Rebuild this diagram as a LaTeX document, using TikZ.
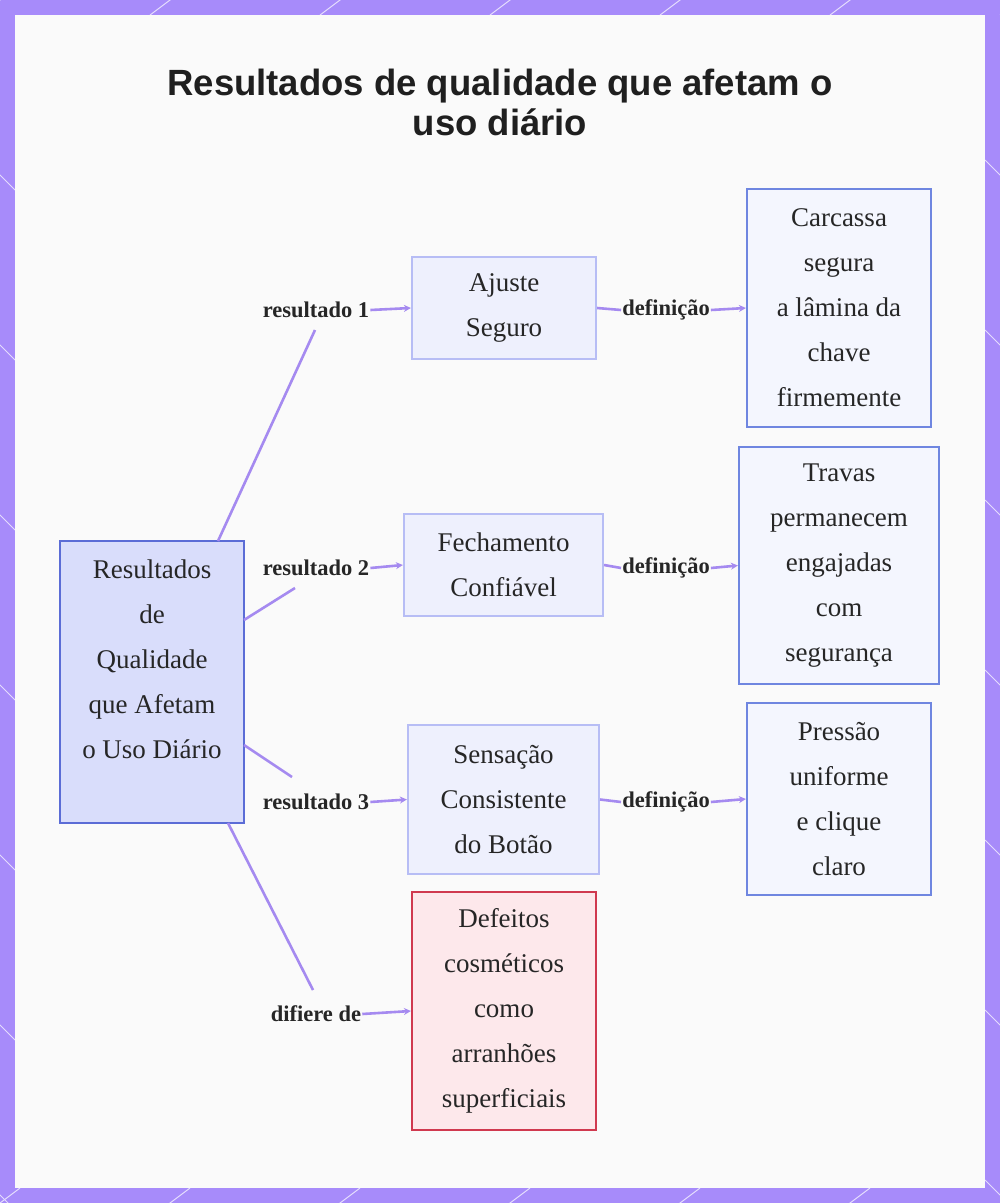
\documentclass[tikz,border=0pt]{standalone}
\usepackage{fontspec}
\setmainfont{Liberation Serif}
\newfontfamily\titlefont{Liberation Sans}
\usetikzlibrary{arrows.meta}
\definecolor{frame}{HTML}{A78BFA}
\definecolor{edge}{HTML}{A58AF0}
\definecolor{mainfill}{HTML}{D9DDFB}
\definecolor{mainborder}{HTML}{5B6CD6}
\definecolor{midfill}{HTML}{EEF0FD}
\definecolor{midborder}{HTML}{B7BDF5}
\definecolor{rfill}{HTML}{F4F6FE}
\definecolor{rborder}{HTML}{6F86E0}
\definecolor{redfill}{HTML}{FDE8EB}
\definecolor{redborder}{HTML}{D0394F}
\tikzset{
  box/.style={draw, line width=2.2pt, align=center, inner sep=0pt, font=\fontsize{27}{45}\selectfont, text=black!85},
  mid/.style={box, fill=midfill, draw=midborder},
  right/.style={box, fill=rfill, draw=rborder},
  lab/.style={font=\fontsize{22.5}{24}\selectfont\bfseries, text=black!85, inner sep=1pt},
  con/.style={draw=edge, line width=2.6pt},
  arr/.style={con, -{Stealth[length=7pt,width=7pt]}},
}
\begin{document}
\begin{tikzpicture}[x=1pt,y=-1pt]
\useasboundingbox (0,0) rectangle (1000,1203);
\fill[frame] (0,0) rectangle (1000,1203);
\begin{scope}
\clip (0,0) rectangle (1000,1203);
\foreach \i in {0,1,...,7}{
  \draw[white!70!frame, line width=1pt] (\i*170-20,15) -- (\i*170+20,-15);
  \draw[white!70!frame, line width=1pt] (\i*170-20,1218) -- (\i*170+20,1188);
}
\foreach \j in {0,1,...,7}{
  \draw[white!70!frame, line width=1pt] (-15,\j*170+160) -- (15,\j*170+190);
  \draw[white!70!frame, line width=1pt] (985,\j*170+160) -- (1015,\j*170+190);
}
\end{scope}
\fill[white!96!gray] (15,15) rectangle (985,1188);
\node[font=\titlefont\bfseries\fontsize{36.5}{40}\selectfont, align=center, text=black!88] (title) at (500,102) {Resultados de qualidade que afetam o\\uso diário};

\node[box, fill=mainfill, draw=mainborder, minimum width=184pt, minimum height=282pt] (main) at (152,682) {Resultados\\de\\Qualidade\\que Afetam\\o Uso Diário\\\mbox{}};

\node[mid, minimum width=184pt, minimum height=102pt] (a1) at (504,308) {Ajuste\\Seguro};
\node[mid, minimum width=199pt, minimum height=102pt] (a2) at (503.5,565) {Fechamento\\Confiável};
\node[mid, minimum width=191pt, minimum height=149pt] (a3) at (503.5,799.5) {Sensação\\Consistente\\do Botão};
\node[box, fill=redfill, draw=redborder, minimum width=184pt, minimum height=238pt] (a4) at (504,1011) {Defeitos\\cosméticos\\como\\arranhões\\superficiais};

\node[right, minimum width=184pt, minimum height=238pt] (b1) at (839,308) {Carcassa\\segura\\a lâmina da\\chave\\firmemente};
\node[right, minimum width=200pt, minimum height=237pt] (b2) at (839,565.5) {Travas\\permanecem\\engajadas\\com\\segurança};
\node[right, minimum width=184pt, minimum height=192pt] (b3) at (839,799) {Pressão\\uniforme\\e clique\\claro};

\node[lab] (l1) at (316,310) {resultado 1};
\node[lab] (l2) at (316,568) {resultado 2};
\node[lab] (l3) at (316,802) {resultado 3};
\node[lab] (l4) at (316,1014) {difiere de};
\node[lab] (d1) at (666,310) {definição};
\node[lab] (d2) at (666,568) {definição};
\node[lab] (d3) at (666,802) {definição};

\coordinate (m1) at (218,541);
\coordinate (m2) at (244,620);
\coordinate (m3) at (244,745);
\coordinate (m4) at (228,823);
\draw[con] (m1) -- (315,330);
\draw[con] (m2) -- (295,588);
\draw[con] (m3) -- (292,777);
\draw[con] (m4) -- (313,990);
\draw[arr] (l1.east) -- (a1.west);
\draw[arr] (l2.east) -- (a2.west);
\draw[arr] (l3.east) -- (a3.west);
\draw[arr] (l4.east) -- (a4.west);
\draw[con] (a1.east) -- (d1.west);
\draw[con] (a2.east) -- (d2.west);
\draw[con] (a3.east) -- (d3.west);
\draw[arr] (d1.east) -- (b1.west);
\draw[arr] (d2.east) -- (b2.west);
\draw[arr] (d3.east) -- (b3.west);
\end{tikzpicture}
\end{document}
